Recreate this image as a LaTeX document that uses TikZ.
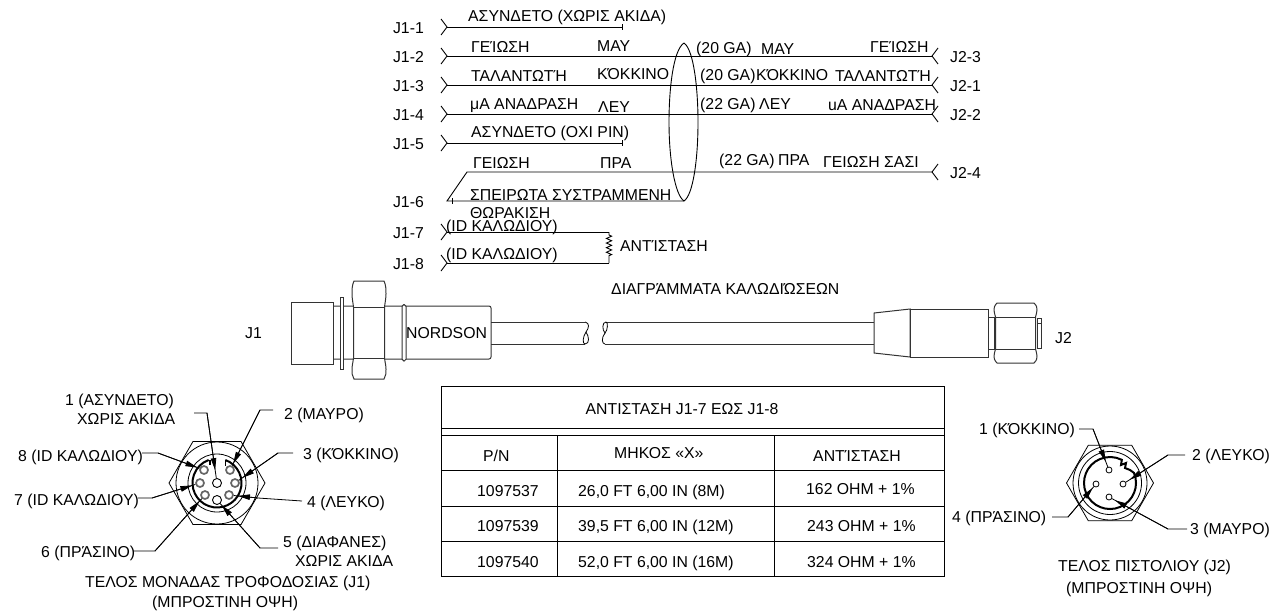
\documentclass[tikz,border=0pt]{standalone}
\usepackage{fontspec}
\setmainfont{Liberation Sans}
\usepackage{tikz}
\usetikzlibrary{arrows.meta, positioning, shapes.geometric, calc, decorations.pathmorphing}
\tikzstyle{wire-label}=[anchor=base west, inner sep=0pt, font=\fontsize{15.8}{17}\selectfont]
\tikzstyle{pin-name}=[inner sep=0pt, font=\fontsize{15.8}{17}\selectfont]
\tikzstyle{wire}=[line width=0.9pt, black]
\tikzstyle{body}=[line width=1pt, black!80, fill=white]
\tikzstyle{leader}=[line width=0.8pt, black]
\tikzstyle{wedge}=[line width=0.8pt, black, -{Triangle[length=12pt,width=5.5pt]}]
\tikzstyle{hex-nut}=[draw, line width=0.8pt, regular polygon, regular polygon sides=6, inner sep=0pt]
\tikzstyle{ring}=[draw, line width=0.8pt, circle, inner sep=0pt]
\tikzstyle{pin-live}=[draw, circle, inner sep=0pt, line width=1.7pt, black!60, fill=white, minimum size=8pt]
\tikzstyle{pin-open}=[draw, circle, inner sep=0pt, line width=0.9pt, black, fill=white, minimum size=9pt]
\tikzstyle{pin-gun}=[draw, circle, inner sep=0pt, line width=0.8pt, black, fill=white, minimum size=6pt]
\tikzstyle{table-rule}=[line width=0.9pt, black]
\begin{document}
\begin{tikzpicture}[x=1pt, y=-1pt]
    \useasboundingbox (0,0) rectangle (1281,611);

    \foreach \n/\sy/\ex in {1/27/622, 2/56/932, 3/85/932, 4/114/932, 5/143/622, 7/232/609, 8/263/609}{
        \coordinate (s\n) at (447,\sy);
        \coordinate (e\n) at (\ex,\sy);
        \draw [wire] (s\n) -- (e\n);
        \draw [wire] ([shift={(-6,-8)}] s\n) -- (s\n) -- ([shift={(-6,8)}] s\n);
    }
    \coordinate (s6) at (447,201);
    \coordinate (s6b) at (467,172);
    \coordinate (e6) at (932,172);
    \coordinate (shield-bot) at (684,201);
    \coordinate (shield-top) at (684,43);
    \draw [wire] (e6) -- (s6b) -- (s6) -- (shield-bot);
    \draw [wire] ([yshift=3pt] s6 -| 452,0) -- ([yshift=-3pt] s6 -| 452,0);
    \draw [wire] ([yshift=3pt] e1) -- ([yshift=-3pt] e1);
    \draw [wire] ([yshift=3pt] e5) -- ([yshift=-3pt] e5);
    \foreach \n in {2,3,4,6}{
        \draw [wire] ([shift={(6,-8)}] e\n) -- (e\n) -- ([shift={(6,8)}] e\n);
    }
    \draw [wire] (shield-top) .. controls (673,50) and (669,90) .. (669,122) .. controls (669,160) and (675,195) .. (shield-bot)
        .. controls (693,195) and (698,160) .. (698,122) .. controls (698,90) and (694,50) .. (shield-top);
    \draw [wire, decorate, decoration={zigzag, amplitude=2.6pt, segment length=4.6pt, pre length=3pt, post length=6pt}] (e7) -- (e8);

    \foreach \n in {1,2,3,4,5,6,7,8}{
        \node (j1\n) [pin-name, left = 23pt of s\n, yshift=-1pt] {J1-\n};
    }
    \node (j23) [pin-name, right = 18pt of e2, yshift=-1pt, anchor=west] {J2-3};
    \node (j21) [pin-name, right = 18pt of e3, yshift=-1pt, anchor=west] {J2-1};
    \node (j22) [pin-name, right = 18pt of e4, yshift=-1pt, anchor=west] {J2-2};
    \node (j24) [pin-name, right = 18pt of e6, yshift=-1pt, anchor=west] {J2-4};

    \node (w1) [wire-label] at (468,21) {ΑΣΥΝΔΕΤΟ (ΧΩΡΙΣ ΑΚΙΔΑ)};
    \node (w2) [wire-label] at (471,52) {ΓΕΊΩΣΗ};
    \node (c2) [wire-label] at (597,51) {ΜΑΥ};
    \node (g2) [wire-label] at (696,53) {(20 GA)};
    \node (d2) [wire-label] at (761,54) {ΜΑΥ};
    \node (r2) [wire-label] at (870,52) {ΓΕΊΩΣΗ};
    \node (w3) [wire-label] at (471,81) {ΤΑΛΑΝΤΩΤΉ};
    \node (c3) [wire-label] at (597,79) {ΚΌΚΚΙΝΟ};
    \node (g3) [wire-label] at (700,80) {(20 GA)};
    \node (d3) [wire-label] at (756,80) {ΚΌΚΚΙΝΟ};
    \node (r3) [wire-label] at (835,81) {ΤΑΛΑΝΤΩΤΉ};
    \node (w4) [wire-label] at (470,109) {μΑ ΑΝΑΔΡΑΣΗ};
    \node (c4) [wire-label] at (598,112) {ΛΕΥ};
    \node (g4) [wire-label] at (700,109) {(22 GA)};
    \node (d4) [wire-label] at (759,109) {ΛΕΥ};
    \node (r4) [wire-label] at (828,110) {uA ΑΝΑΔΡΑΣΗ};
    \node (w5) [wire-label] at (471,137) {ΑΣΥΝΔΕΤΟ (ΟΧΙ PIN)};
    \node (w6) [wire-label] at (473,168) {ΓΕΙΩΣΗ};
    \node (c6) [wire-label] at (600,168) {ΠΡΑ};
    \node (g6) [wire-label] at (719,165) {(22 GA)};
    \node (d6) [wire-label] at (778,165) {ΠΡΑ};
    \node (r6) [wire-label] at (823,167) {ΓΕΙΩΣΗ ΣΑΣΙ};
    \node (sh1) [wire-label] at (470,200) {ΣΠΕΙΡΩΤΑ ΣΥΣΤΡΑΜΜΕΝΗ};
    \node (sh2) [wire-label] at (470,218) {ΘΩΡΑΚΙΣΗ};
    \node (w7) [wire-label] at (446,231) {(ID ΚΑΛΩΔΙΟΥ)};
    \node (w8) [wire-label] at (446,259) {(ID ΚΑΛΩΔΙΟΥ)};
    \node (res) [wire-label] at (620,251) {ΑΝΤΊΣΤΑΣΗ};
    \node (title) [wire-label] at (611,294) {ΔΙΑΓΡΆΜΜΑΤΑ ΚΑΛΩΔΙΏΣΕΩΝ};

    \draw [body, rounded corners=2pt] (333,306) -- (491,306) -- (491,359) -- (333,359);
    \draw [body] (291,302) rectangle (333,364);
    \draw [body] (340,297) rectangle (343.5,369);
    \draw [body] (354,281) -- (384,281) .. controls (386,285) and (386,290) .. (386,294) .. controls (386,298) and (385,303) .. (384.5,307)
        -- (384.5,358) .. controls (385,362) and (386,366) .. (386,369) .. controls (386,373) and (386,376) .. (384,379)
        -- (354,379) .. controls (352,376) and (352,373) .. (352,369) .. controls (352,366) and (353,362) .. (353.5,358)
        -- (353.5,307) .. controls (353,303) and (352,298) .. (352,294) .. controls (352,290) and (352,285) .. (354,281) -- cycle;
    \draw [body] (353.5,307) -- (384.5,307);
    \draw [body] (353.5,358) -- (384.5,358);
    \draw [body, rounded corners=1.8pt] (402,304.5) rectangle (406,361);
    \node (nordson) [wire-label] at (406,338) {NORDSON};
    \node (j1) [wire-label] at (245,338) {J1};

    \coordinate (cab-a) at (491,322);
    \coordinate (cab-b) at (491,344);
    \coordinate (cab-c) at (585,322);
    \coordinate (cab-d) at (585,344);
    \coordinate (cab-e) at (606,322);
    \coordinate (cab-f) at (605,344);
    \coordinate (cab-g) at (874,322);
    \coordinate (cab-h) at (874,344);
    \draw [body, fill=none] (cab-a) -- (cab-c) (cab-b) -- (cab-d) (cab-e) -- (cab-g) (cab-f) -- (cab-h);
    \draw [line width=0.8pt, black] (cab-c) .. controls (590,323) and (589,328) .. (586,332) .. controls (583,336) and (582,344) .. (cab-d) .. controls (590,344) and (589,336) .. (586,332);
    \draw [line width=0.8pt, black] (cab-e) .. controls (602,322) and (602,330) .. (605,333) .. controls (608,330) and (608,322) .. (cab-e);
    \draw [line width=0.8pt, black] (605,333) .. controls (601,338) and (602,344) .. (cab-f);

    \draw [body] (988,317) rectangle (994,349);
    \draw [body] (874,313) -- (910,309) -- (910,357) -- (874,353) -- cycle;
    \draw [body] (910,309) rectangle (988,357);
    \draw [body] (1037,318) rectangle (1041,348);
    \draw [body] (1037,318) rectangle (1041,323);
    \draw [body] (997,303) -- (1034,303) .. controls (1037,306) and (1037,308) .. (1037,310) .. controls (1037,312) and (1036,315) .. (1035.5,317)
        -- (1035.5,349) .. controls (1036,351) and (1037,354) .. (1037,356) .. controls (1037,358) and (1037,360) .. (1034,363)
        -- (997,363) .. controls (994,360) and (994,358) .. (994,356) .. controls (994,354) and (995,351) .. (995.5,349)
        -- (995.5,317) .. controls (995,315) and (994,312) .. (994,310) .. controls (994,308) and (994,306) .. (997,303) -- cycle;
    \draw [body] (995.5,317) -- (1035.5,317);
    \draw [body] (995.5,349) -- (1035.5,349);
    \node (j2) [wire-label] at (1055,343) {J2};

    \node (hexa) [hex-nut, minimum size=96pt] at (217,483) {};
    \node (ringa) [ring, minimum size=82pt] at (217,483) {};
    \node (ringb) [ring, minimum size=58pt] at (217,483) {};
    \draw [line width=2pt, black] (hexa.center) ++(290:24.5) arc[start angle=290, end angle=610, radius=24.5];
    \draw [line width=1.2pt, black] (210,460) -- (210,465);
    \draw [line width=1.2pt, black] (225.4,460) -- (225.4,466);

    \node (jp1) [pin-open] at (217,483) {};
    \foreach \n/\dx/\dy in {2/13/-13, 3/18/0, 4/12/12, 6/-12/12, 7/-17/0, 8/-13/-13}{
        \node (jp\n) [pin-live] at ([shift={(\dx,\dy)}] hexa.center) {};
    }
    \node (jp5) [pin-open] at ([shift={(0,17)}] hexa.center) {};

    \foreach \n/\ax/\ay/\bx/\by/\g in {1/194/413/207/413/13, 2/273/410/260/410/7, 3/293/453/278/453/9, 4/302/501/258/498/9, 5/278/548/260/548/7, 6/133/551/155/551/8, 7/138/498/152/498/8, 8/142/453/158/453/7}{
        \coordinate (ca\n) at (\ax,\ay);
        \coordinate (cb\n) at (\bx,\by);
        \draw [leader] (ca\n) -- (cb\n) -- (jp\n);
        \draw [wedge] (cb\n) -- ($(jp\n)!\g pt!(cb\n)$);
    }

    \node (la1) [wire-label] at (65,405) {1 (ΑΣΥΝΔΕΤΟ)};
    \node (la1b) [wire-label] at (77,424) {ΧΩΡΙΣ ΑΚΙΔΑ};
    \node (la2) [wire-label] at (284,419) {2 (ΜΑΥΡΟ)};
    \node (la3) [wire-label] at (303,459) {3 (ΚΌΚΚΙΝΟ)};
    \node (la4) [wire-label] at (307,507) {4 (ΛΕΥΚΟ)};
    \node (la5) [wire-label] at (283,547) {5 (ΔΙΑΦΑΝΕΣ)};
    \node (la5b) [wire-label] at (295,566) {ΧΩΡΙΣ ΑΚΙΔΑ};
    \node (la6) [wire-label] at (41,557) {6 (ΠΡΆΣΙΝΟ)};
    \node (la7) [wire-label] at (14,505) {7 (ID ΚΑΛΩΔΙΟΥ)};
    \node (la8) [wire-label] at (18,461) {8 (ID ΚΑΛΩΔΙΟΥ)};
    \node (cap-a) [wire-label] at (85,587) {ΤΕΛΟΣ ΜΟΝΑΔΑΣ ΤΡΟΦΟΔΟΣΙΑΣ (J1)};
    \node (cap-b) [wire-label] at (152,607) {(ΜΠΡΟΣΤΙΝΗ ΟΨΗ)};

    \node (hexb) [hex-nut, minimum size=87pt] at (1110,483) {};
    \node (ringc) [ring, minimum size=74pt] at (1110,483) {};
    \node (ringd) [ring, minimum size=63pt] at (1110,483) {};
    \draw [line width=2pt, black] (hexb.center) ++(337:26) arc[start angle=337, end angle=657, radius=26]
        -- (1121,465) -- (1126,463) -- (1125,468) -- (1130,470) -- cycle;
    \foreach \n/\dx/\dy in {1/-1/-13, 2/13/1, 3/-1/14, 4/-14/1}{
        \node (gp\n) [pin-gun] at ([shift={(\dx,\dy)}] hexb.center) {};
    }
    \foreach \n/\ax/\ay/\bx/\by/\g in {1/1079/429/1093/429/9, 2/1185/455/1168/455/8, 3/1187/529/1168/529/7, 4/1052/517/1068/517/5}{
        \coordinate (da\n) at (\ax,\ay);
        \coordinate (db\n) at (\bx,\by);
        \draw [leader] (da\n) -- (db\n) -- (gp\n);
        \draw [wedge] (db\n) -- ($(gp\n)!\g pt!(db\n)$);
    }
    \node (lb1) [wire-label] at (979,434) {1 (ΚΌΚΚΙΝΟ)};
    \node (lb2) [wire-label] at (1192,460) {2 (ΛΕΥΚΟ)};
    \node (lb3) [wire-label] at (1190,534) {3 (ΜΑΥΡΟ)};
    \node (lb4) [wire-label] at (952,522) {4 (ΠΡΆΣΙΝΟ)};
    \node (cap-c) [wire-label] at (1058,571) {ΤΕΛΟΣ ΠΙΣΤΟΛΙΟΥ (J2)};
    \node (cap-d) [wire-label] at (1066,593) {(ΜΠΡΟΣΤΙΝΗ ΟΨΗ)};

    \draw [table-rule] (441,386) rectangle (944,576);
    \foreach \y in {428,435,470,506,541}{
        \draw [table-rule] (441,\y) -- (944,\y);
    }
    \foreach \x in {557,774}{
        \draw [table-rule] (\x,435) -- (\x,576);
    }
    \node (tab-head) [wire-label, anchor=base] at (682,414) {ΑΝΤΙΣΤΑΣΗ J1-7 ΕΩΣ J1-8};
    \node (tab-pn) [wire-label] at (483,461) {P/N};
    \node (tab-len) [wire-label] at (614,458) {ΜΗΚΟΣ «Χ»};
    \node (tab-res) [wire-label] at (813,461) {ΑΝΤΊΣΤΑΣΗ};
    \node (pn1) [wire-label] at (477,496) {1097537};
    \node (len1) [wire-label] at (578,496) {26,0 FT 6,00 IN (8M)};
    \node (ohm1) [wire-label] at (806,494) {162 OHM + 1\%};
    \node (pn2) [wire-label] at (477,531) {1097539};
    \node (len2) [wire-label] at (578,531) {39,5 FT 6,00 IN (12M)};
    \node (ohm2) [wire-label] at (807,531) {243 OHM + 1\%};
    \node (pn3) [wire-label] at (477,567) {1097540};
    \node (len3) [wire-label] at (578,567) {52,0 FT 6,00 IN (16M)};
    \node (ohm3) [wire-label] at (807,567) {324 OHM + 1\%};
\end{tikzpicture}
\end{document}
